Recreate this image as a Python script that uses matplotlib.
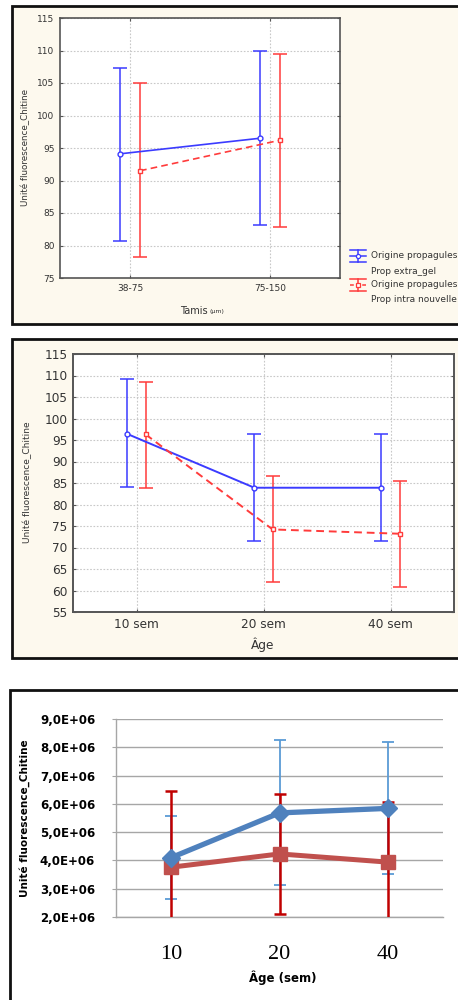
import matplotlib
matplotlib.use("Agg")
import matplotlib.pyplot as plt
from matplotlib.patches import Rectangle
from matplotlib.lines import Line2D
from matplotlib.ticker import FuncFormatter, MultipleLocator

# ---------------- data ----------------
tamis_cats = ["38-75", "75-150"]
p1_blue = [94.1, 96.5]
p1_blue_lo = [80.7, 83.1]
p1_blue_hi = [107.3, 110.0]
p1_red = [91.5, 96.2]
p1_red_lo = [78.3, 82.8]
p1_red_hi = [105.0, 109.5]

age_cats = ["10 sem", "20 sem", "40 sem"]
p2_blue = [96.4, 83.9, 83.9]
p2_blue_lo = [84.0, 71.5, 71.5]
p2_blue_hi = [109.1, 96.3, 96.3]
p2_red = [96.3, 74.2, 73.2]
p2_red_lo = [83.8, 61.9, 60.7]
p2_red_hi = [108.6, 86.7, 85.5]

age_nums = ["10", "20", "40"]
p3_blue = [4.1e6, 5.68e6, 5.84e6]
p3_blue_err = [1.48e6, 2.56e6, 2.33e6]
p3_red = [3.76e6, 4.23e6, 3.94e6]
p3_red_err = [2.69e6, 2.13e6, 2.14e6]

legend_labels = ["Origine propagules\nProp extra_gel", "Origine propagules\nProp intra nouvelle"]
ylabel = "Unité fluorescence_Chitine"

W, H = 458, 1000
fig = plt.figure(figsize=(W / 100, H / 100), dpi=100)
fig.patch.set_facecolor("white")


def rect(x0, y0, x1, y1):
    return [x0 / W, 1 - y1 / H, (x1 - x0) / W, (y1 - y0) / H]


def fx(x):
    return x / W


def fy(y):
    return 1 - y / H


cream = "#fdf9ee"
# panel frames
for (x0, y0, x1, y1, fc) in [(12, 6, 470, 324, cream), (12, 339, 470, 658, cream), (10, 690, 470, 1012, "white")]:
    fig.patches.append(Rectangle((fx(x0), fy(y1)), fx(x1 - x0), (y1 - y0) / H,
                                 transform=fig.transFigure, facecolor=fc,
                                 edgecolor="#111111", linewidth=2, zorder=-5))

BLUE = "#3b3bff"
RED = "#ff3b3b"
TXT = "#333333"


def stat_panel(ax, cats, bv, blo, bhi, rv, rlo, rhi, ylim, fs, lw_frame, lw_line):
    ax.set_facecolor("white")
    n = len(cats)
    xs = list(range(n))
    off = 0.072
    xb = [x - off for x in xs]
    xr = [x + off for x in xs]
    eb_b = [[v - l for v, l in zip(bv, blo)], [h - v for v, h in zip(bv, bhi)]]
    eb_r = [[v - l for v, l in zip(rv, rlo)], [h - v for v, h in zip(rv, rhi)]]
    ax.errorbar(xb, bv, yerr=eb_b, fmt="none", ecolor=BLUE, elinewidth=1.1, capsize=4.8, capthick=1.1, zorder=3)
    ax.errorbar(xr, rv, yerr=eb_r, fmt="none", ecolor=RED, elinewidth=1.1, capsize=4.8, capthick=1.1, zorder=3)
    ax.plot(xb, bv, color=BLUE, lw=lw_line, marker="o", ms=3.5, mfc="white", mec=BLUE, mew=1, zorder=4)
    ax.plot(xr, rv, color=RED, lw=lw_line, ls=(0, (4, 2.5)), marker="s", ms=3.5, mfc="white", mec=RED, mew=1, zorder=4)
    ax.set_xlim(-0.5, n - 0.5)
    ax.set_ylim(*ylim)
    ax.yaxis.set_major_locator(MultipleLocator(5))
    ax.set_xticks(xs)
    ax.set_xticklabels(cats)
    ax.grid(True, color="#c8c8c8", ls=(0, (1.5, 1.5)), lw=0.8)
    ax.set_axisbelow(True)
    ax.tick_params(axis="both", colors="#555555", labelcolor=TXT, labelsize=fs, length=2.5, direction="in", pad=4)
    ax.tick_params(axis="y", right=True)
    ax.tick_params(axis="x", top=True)
    for s in ax.spines.values():
        s.set_color("#555555")
        s.set_linewidth(lw_frame)
    return xb, xr


# ---------------- panel 1 ----------------
ax1 = fig.add_axes(rect(60, 18, 340, 278))
stat_panel(ax1, tamis_cats, p1_blue, p1_blue_lo, p1_blue_hi, p1_red, p1_red_lo, p1_red_hi, (75, 115), 6.5, 1.2, 1.2)
fig.text(fx(25), fy(148), ylabel, rotation=90, ha="center", va="center", fontsize=6.3, color=TXT)
fig.text(fx(208), fy(311), "Tamis", ha="right", va="center", fontsize=7, color=TXT)
fig.text(fx(209), fy(312), "(µm)", ha="left", va="center", fontsize=4.5, color=TXT)

# legend (drawn manually)
for i, (col, mk, ls) in enumerate([(BLUE, "o", "-"), (RED, "s", (0, (2.5, 1.5)))]):
    yc = 256 + i * 29
    xc = 358
    fig.lines.append(Line2D([fx(350), fx(366)], [fy(yc), fy(yc)], transform=fig.transFigure, color=col, lw=1.1, ls=ls))
    fig.lines.append(Line2D([fx(xc), fx(xc)], [fy(yc - 6), fy(yc + 6)], transform=fig.transFigure, color=col, lw=1.1))
    for yy in (yc - 6, yc + 6):
        fig.lines.append(Line2D([fx(350), fx(366)], [fy(yy), fy(yy)], transform=fig.transFigure, color=col, lw=1.1))
    fig.lines.append(Line2D([fx(xc)], [fy(yc)], transform=fig.transFigure, color=col, marker=mk, ms=3, mfc="white", mec=col, mew=0.9))
    l1, l2 = legend_labels[i].split("\n")
    fig.text(fx(371), fy(yc), l1, ha="left", va="center", fontsize=6.5, color=TXT)
    fig.text(fx(371), fy(yc + 15), l2, ha="left", va="center", fontsize=6.5, color=TXT)

# ---------------- panel 2 ----------------
ax2 = fig.add_axes(rect(73, 354, 454, 612))
stat_panel(ax2, age_cats, p2_blue, p2_blue_lo, p2_blue_hi, p2_red, p2_red_lo, p2_red_hi, (55, 115), 8.7, 1.4, 1.4)
fig.text(fx(27), fy(482), ylabel, rotation=90, ha="center", va="center", fontsize=6.5, color=TXT)
fig.text(fx(263), fy(645), "Âge", ha="center", va="center", fontsize=8.7, color=TXT)

# ---------------- panel 3 ----------------
ax3 = fig.add_axes(rect(116, 719, 443, 917))
ax3.set_facecolor("white")
xs3 = list(range(len(age_nums)))
ax3.errorbar(xs3, p3_blue, yerr=p3_blue_err, fmt="none", ecolor="#5b9bd5", elinewidth=1.3, capsize=4, capthick=1.3, zorder=3)
ax3.errorbar(xs3, p3_red, yerr=p3_red_err, fmt="none", ecolor="#c00000", elinewidth=1.8, capsize=4, capthick=1.8, zorder=4)
ax3.plot(xs3, p3_red, color="#c0504d", lw=3.6, marker="s", ms=10, zorder=5)
ax3.plot(xs3, p3_blue, color="#4f81bd", lw=3.8, marker="D", ms=9.5, zorder=6)
ax3.set_xlim(-0.51, 2.51)
ax3.set_ylim(2e6, 9e6)
ax3.yaxis.set_major_locator(MultipleLocator(1e6))
ax3.yaxis.set_major_formatter(FuncFormatter(lambda v, p: f"{v / 1e6:.1f}".replace(".", ",") + "E+06"))
ax3.set_xticks(xs3)
ax3.set_xticklabels(age_nums, fontfamily="Liberation Serif", fontsize=16, color="black")
ax3.grid(True, axis="y", color="#a6a6a6", lw=1)
ax3.set_axisbelow(True)
ax3.tick_params(axis="x", length=0, pad=20)
ax3.tick_params(axis="y", length=3, color="#a6a6a6", pad=12, labelsize=8.5)
for lab in ax3.get_yticklabels():
    lab.set_fontweight("bold")
    lab.set_fontfamily("DejaVu Sans")
for s in ["top", "right"]:
    ax3.spines[s].set_visible(False)
for s in ["left", "bottom"]:
    ax3.spines[s].set_color("#a6a6a6")
    ax3.spines[s].set_linewidth(1)
fig.text(fx(25), fy(818), ylabel, rotation=90, ha="center", va="center", fontsize=7.5, fontweight="bold", color="black")
fig.text(fx(283), fy(978), "Âge (sem)", ha="center", va="center", fontsize=8.5, fontweight="bold", color="black")

fig.savefig("out.png", dpi=100)
